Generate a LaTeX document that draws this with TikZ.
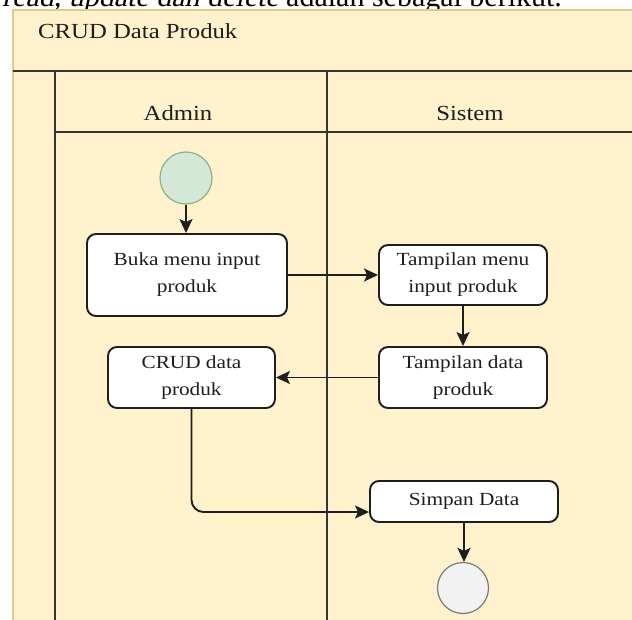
\documentclass[tikz,border=0pt]{standalone}
\usepackage{fontspec}
\setmainfont[FakeStretch=1.15]{Liberation Serif}
\newfontfamily\docfont{Liberation Serif}
\newfontfamily\docitfont[FakeSlant=0.21]{Liberation Serif}
\usetikzlibrary{arrows.meta}

\definecolor{poolfill}{HTML}{FFF2CC}
\definecolor{pooledge}{HTML}{DCCB94}
\definecolor{startfill}{HTML}{D3E8D6}
\definecolor{startedge}{HTML}{8FAF86}
\definecolor{endfill}{HTML}{F2F2F2}
\definecolor{endedge}{HTML}{7A7A7A}
\definecolor{ink}{HTML}{1E1E1E}

\tikzset{
  act/.style={draw=ink, line width=1.9pt, rounded corners=9pt, fill=white,
    align=center, text=ink, inner sep=0pt,
    font=\fontsize{18.5}{27}\selectfont},
  flow/.style={-{Stealth[length=14pt,width=13pt,inset=3pt]}, line width=1.9pt, draw=ink},
  lane/.style={line width=2.2pt, draw=ink!90},
  lanelabel/.style={text=ink, inner sep=0pt, font=\fontsize{21.5}{24}\selectfont},
}

\begin{document}
\begin{tikzpicture}[x=1pt, y=-1pt]
\useasboundingbox (0,0) rectangle (632,620);
\fill[white] (0,0) rectangle (632,620);

% running text of the page above the figure
\node[anchor=base west, inner sep=0pt, text=black,
      font=\docfont\fontsize{30}{32}\selectfont] (intro) at (2,7)
  {{\docitfont read, update dan delete} adalah sebagai berikut.};

% pool
\fill[poolfill] (13,10) rectangle (640,630);
\draw[pooledge, line width=1.5pt] (13,630) -- (13,10) -- (640,10);
\node[lanelabel, anchor=west] (title) at (38,31) {CRUD Data Produk};

% lanes
\draw[lane] (13,71) -- (640,71);
\draw[lane] (55,71) -- (55,630);
\draw[lane] (327,71) -- (327,630);
\draw[lane] (55,132) -- (640,132);
\node[lanelabel] (admin) at (178,113) {Admin};
\node[lanelabel] (sistem) at (470,113) {Sistem};

% activities
\node[circle, draw=startedge, line width=1.2pt, fill=startfill,
      minimum size=52pt, inner sep=0pt] (start) at (186,178) {};
\node[act, minimum width=200pt, minimum height=82pt] (buka) at (187,275) {Buka menu input\\produk};
\node[act, minimum width=168pt, minimum height=60pt] (tmenu) at (463,275) {Tampilan menu\\input produk};
\node[act, minimum width=168pt, minimum height=61pt] (tdata) at (463,377.5) {Tampilan data\\produk};
\node[act, minimum width=167pt, minimum height=61pt] (crud) at (191.5,377.5) {CRUD data\\produk};
\node[act, minimum width=188pt, minimum height=41pt] (simpan) at (464,501.5) {Simpan Data};
\node[circle, draw=endedge, line width=1.2pt, fill=endfill,
      minimum size=51pt, inner sep=0pt] (stop) at (463,588) {};

% control flow
\draw[flow] (start) -- (start |- buka.north);
\draw[flow] (buka.east) -- (buka.east -| tmenu.west);
\draw[flow] (tmenu.south) -- (tmenu.south |- tdata.north);
\draw[flow] (tdata.west) -- (crud.east);
\coordinate (simpanin) at ([yshift=-10.5pt]simpan.west);
\draw[flow, rounded corners=12pt] (crud.south) |- (simpanin);
\draw[flow] (simpan.south) -- (simpan.south |- stop.north);
\end{tikzpicture}
\end{document}
